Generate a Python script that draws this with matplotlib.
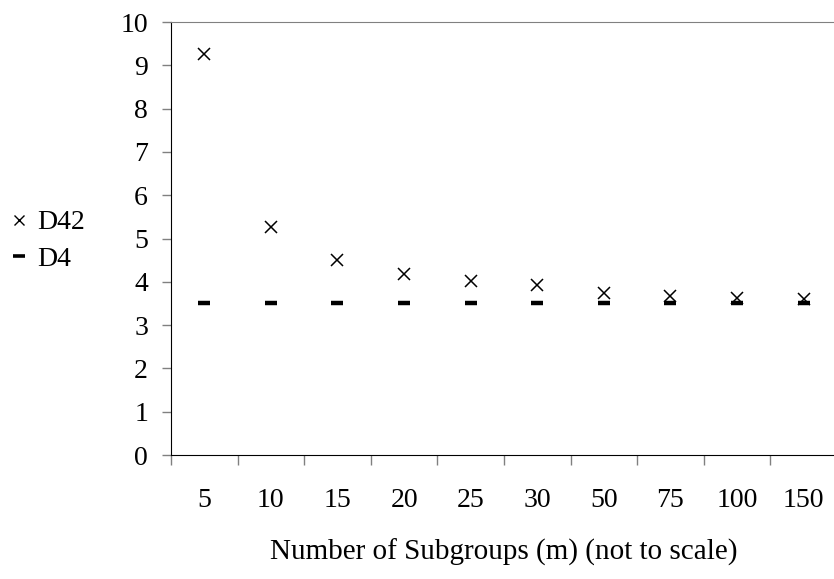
import matplotlib
matplotlib.use("Agg")
import matplotlib.pyplot as plt
import numpy as np
from matplotlib.lines import Line2D

categories = ["5", "10", "15", "20", "25", "30", "50", "75", "100", "150"]
d42 = [9.25, 5.27, 4.51, 4.18, 4.03, 3.92, 3.75, 3.67, 3.63, 3.60]
d4 = [3.52] * 10
yticks = list(range(0, 11))

plt.rcParams['font.family'] = ['Liberation Serif', 'DejaVu Serif']
FS = 20

fig = plt.figure(figsize=(8.34, 5.79), dpi=100)
ax = fig.add_axes([0.205, 0.214, 0.7986, 0.748])

x = np.arange(len(categories))
ax.plot(x, d4, linestyle='none', marker='_', markersize=8, markeredgewidth=3.2, color='black', zorder=3)
ax.plot(x, d42, linestyle='none', marker='x', markersize=8, markeredgewidth=1.1, color='black', zorder=4)

ax.set_xlim(-0.5, len(categories) - 0.5)
ax.set_ylim(0, 10)
ax.set_yticks(yticks)
ax.set_yticklabels([str(v) for v in yticks], fontsize=FS)
ax.tick_params(axis='y', direction='out', length=6.5, width=1, color='#808080', pad=10)

ax.set_xticks(x)
ax.set_xticklabels(categories, fontsize=FS)
ax.tick_params(axis='x', which='major', length=0, pad=24)
ax.set_xticks(np.arange(-0.5, len(categories) - 0.4, 1), minor=True)
ax.tick_params(axis='x', which='minor', direction='out', length=7, width=1, color='#808080')

ax.set_xlabel("Number of Subgroups (m) (not to scale)", fontsize=21, labelpad=18)

ax.spines['left'].set_color('black')
ax.spines['bottom'].set_color('black')
ax.spines['top'].set_color('#808080')
ax.spines['right'].set_visible(False)

handles = [
    Line2D([], [], linestyle='none', marker='x', markersize=7, markeredgewidth=1, color='black'),
    Line2D([], [], linestyle='none', marker='_', markersize=8, markeredgewidth=2.6, color='black'),
]
fig.legend(handles, ["D42", "D4"], loc='center left', bbox_to_anchor=(0.0144, 0.584),
           frameon=False, fontsize=FS, handlelength=0.5, handletextpad=0.4,
           labelspacing=0.4, borderaxespad=0, borderpad=0)

fig.savefig("out.png", dpi=100)
